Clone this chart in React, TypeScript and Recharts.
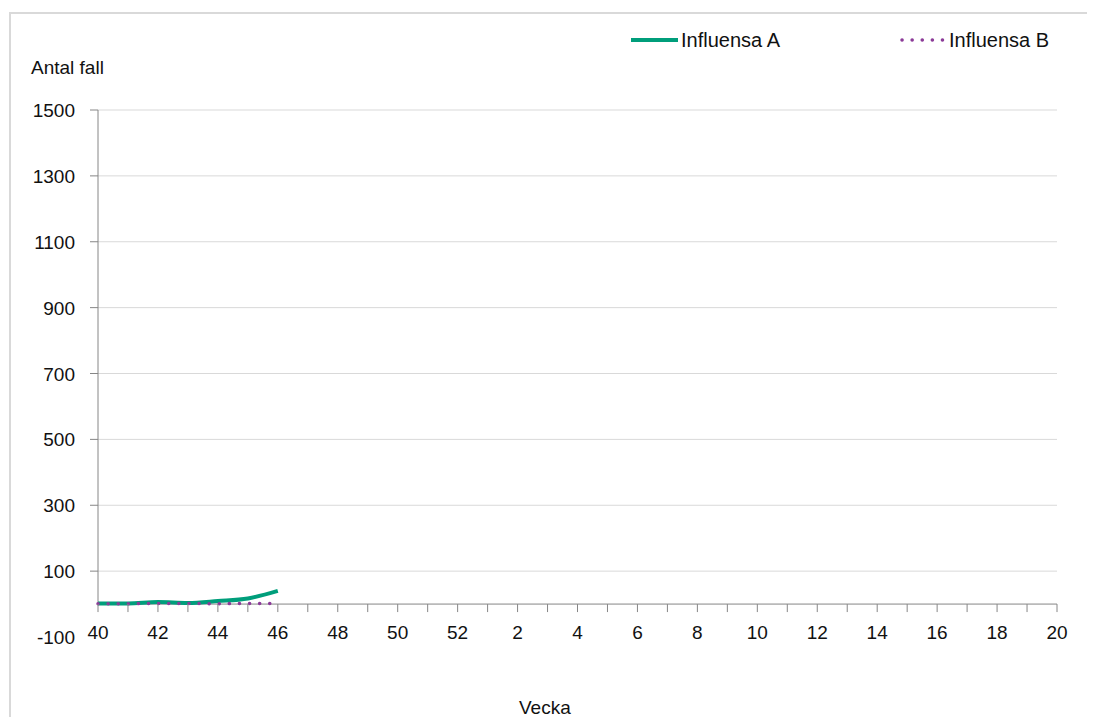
import { LineChart, Line, XAxis, YAxis, CartesianGrid, ReferenceLine } from 'recharts';

const weeks = ['40', '41', '42', '43', '44', '45', '46', '47', '48', '49', '50', '51', '52',
  '1', '2', '3', '4', '5', '6', '7', '8', '9', '10', '11', '12', '13', '14', '15', '16', '17', '18', '19', '20'];
const influensaA = [2, 2, 6, 3, 9, 17, 40];
const influensaB = [1, 1, 2, 2, 1, 2, 2];
const yTicks = [-100, 100, 300, 500, 700, 900, 1100, 1300, 1500];
const gridValues = [100, 300, 500, 700, 900, 1100, 1300, 1500];

const data = weeks.map((w, i) => ({
  week: w,
  a: i < influensaA.length ? influensaA[i] : null,
  b: i < influensaB.length ? influensaB[i] : null,
}));

const FONT = 'Liberation Sans';
const FS = 19;
const TEXT = '#111';
const AXIS = '#868686';
const GRID = '#d9d9d9';
const GREEN = '#009e7b';
const PURPLE = '#8b3a98';

// plot is 527px high for 1600 units, x axis crosses at 0
const PLOT_H = 527;
const ZERO_OFFSET = (PLOT_H * 100) / 1600;

const WeekTick = (props: any) => {
  const { x, y, index, payload } = props;
  const zeroY = y - ZERO_OFFSET;
  return (
    <g>
      <line x1={x} x2={x} y1={zeroY} y2={zeroY + 8} stroke={AXIS} />
      {index % 2 === 0 && (
        <text x={x} y={zeroY + 35} textAnchor="middle" fontFamily={FONT} fontSize={FS} fill={TEXT}>
          {payload.value}
        </text>
      )}
    </g>
  );
};

const CountTick = (props: any) => {
  const { x, y, payload } = props;
  return (
    <g>
      {payload.value >= 0 && <line x1={x - 8} x2={x} y1={y} y2={y} stroke={AXIS} />}
      <text x={x - 23} y={y + 7} textAnchor="end" fontFamily={FONT} fontSize={FS} fill={TEXT}>
        {payload.value}
      </text>
    </g>
  );
};

const textStyle = { position: 'absolute' as const, fontFamily: FONT, fontSize: FS, color: TEXT, whiteSpace: 'nowrap' as const, lineHeight: '22px' };
const legendText = { fontFamily: FONT, fontSize: 20, color: TEXT, lineHeight: '22px' };

export default function App() {
  return (
    <div style={{ position: 'relative', width: 1079, height: 709 }}>
      <div style={{ position: 'absolute', left: 1, top: 4, width: 1086, height: 705, boxSizing: 'border-box', borderTop: `2px solid ${GRID}`, borderLeft: `2px solid ${GRID}` }} />
      <LineChart width={1079} height={709} data={data} margin={{ top: 102, right: 30, left: 0, bottom: 50 }}>
        <CartesianGrid vertical={false} stroke={GRID} horizontalValues={gridValues} />
        <XAxis dataKey="week" scale="point" interval={0} height={30} axisLine={false} tickLine={false}
          tickSize={0} tickMargin={0} tick={<WeekTick />} />
        <YAxis type="number" domain={[-100, 1500]} ticks={yTicks} interval={0} width={90} axisLine={false}
          tickLine={false} tickSize={0} tickMargin={0} tick={<CountTick />} />
        <ReferenceLine y={0} stroke={AXIS} />
        <ReferenceLine segment={[{ x: '40', y: 0 }, { x: '40', y: 1500 }]} stroke={AXIS} />
        <Line type="monotone" dataKey="a" stroke={GREEN} strokeWidth={4} dot={false} isAnimationActive={false} />
        <Line type="linear" dataKey="b" stroke={PURPLE} strokeWidth={3.5} strokeLinecap="round"
          strokeDasharray="0.1 10" dot={false} isAnimationActive={false} />
      </LineChart>
      <div style={{ ...textStyle, left: 23, top: 49 }}>Antal fall</div>
      <div style={{ ...textStyle, left: 511, top: 689 }}>Vecka</div>
      <div style={{ position: 'absolute', left: 623, top: 21, display: 'flex', alignItems: 'center' }}>
        <svg width={50} height={22}><line x1={0} x2={47} y1={11} y2={11} stroke={GREEN} strokeWidth={4} /></svg>
        <span style={legendText}>Influensa A</span>
      </div>
      <div style={{ position: 'absolute', left: 891, top: 21, display: 'flex', alignItems: 'center' }}>
        <svg width={50} height={22}>
          <line x1={3} x2={45} y1={11} y2={11} stroke={PURPLE} strokeWidth={3.5} strokeLinecap="round" strokeDasharray="0.1 10" />
        </svg>
        <span style={legendText}>Influensa B</span>
      </div>
    </div>
  );
}
